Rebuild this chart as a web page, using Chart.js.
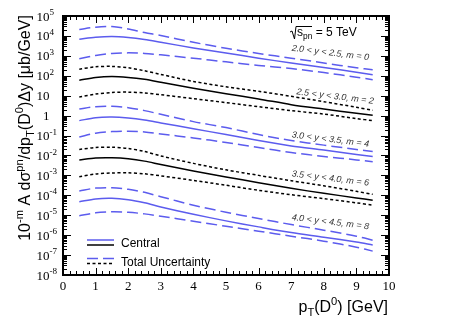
<!DOCTYPE html>
<html>
<head>
<meta charset="utf-8">
<script src="https://cdn.jsdelivr.net/npm/chart.js@4.4.1/dist/chart.umd.min.js"></script>
<style>
  html, body { margin: 0; padding: 0; background: #fff; }
  #wrap { width: 457px; height: 328px; }
</style>
</head>
<body>
<div id="wrap"><canvas id="myChart" width="457" height="328"></canvas></div>
<script>
// pT bins (GeV)
var pT = [0.5, 1, 1.5, 2, 2.5, 3, 4, 5, 6, 7, 8, 9, 9.5];

// 2.0 < y < 2.5, m = 0
var m0Central = [6.8e3, 8.5e3, 9.3e3, 8.3e3, 6.6e3, 4.8e3, 2.5e3, 1.4e3, 760, 440, 260, 150, 112];
var m0Upper = [2.1e4, 2.75e4, 2.95e4, 2.24e4, 1.48e4, 1.05e4, 4.8e3, 2.4e3, 1.32e3, 760, 440, 250, 200];
var m0Lower = [710, 1.05e3, 1.32e3, 1.41e3, 1.32e3, 1.12e3, 760, 500, 330, 230, 145, 85, 63];
// 2.5 < y < 3.0, m = 2
var m2Central = [60, 83, 93, 83, 66, 47, 23.4, 12.6, 6.9, 3.55, 2.14, 1.32, 1.05];
var m2Upper = [214, 282, 295, 251, 178, 117, 52, 28, 16.6, 9.3, 5.0, 2.63, 1.86];
var m2Lower = [8.5, 12, 14.5, 15.1, 13.8, 11.2, 7.1, 4.5, 2.8, 1.78, 1.2, 0.71, 0.56];
// 3.0 < y < 3.5, m = 4
var m4Central = [0.56, 0.79, 0.85, 0.76, 0.60, 0.43, 0.22, 0.112, 0.056, 0.030, 0.0186, 0.0112, 0.0089];
var m4Upper = [2.14, 2.82, 2.95, 2.51, 1.78, 1.17, 0.50, 0.25, 0.112, 0.056, 0.033, 0.020, 0.0158];
var m4Lower = [0.085, 0.132, 0.158, 0.166, 0.151, 0.120, 0.076, 0.045, 0.025, 0.0141, 0.0089, 0.0060, 0.0048];
// 3.5 < y < 4.0, m = 6
var m6Central = [5.9e-3, 7.4e-3, 7.6e-3, 6.8e-3, 5.2e-3, 3.5e-3, 1.66e-3, 8.3e-4, 4.3e-4, 2.24e-4, 1.26e-4, 7.4e-5, 5.6e-5];
var m6Upper = [2.0e-2, 2.5e-2, 2.6e-2, 2.24e-2, 1.58e-2, 9.5e-3, 4.0e-3, 1.9e-3, 1.0e-3, 5.4e-4, 3.0e-4, 1.58e-4, 1.12e-4];
var m6Lower = [8.5e-4, 1.17e-3, 1.32e-3, 1.35e-3, 1.2e-3, 9.5e-4, 5.6e-4, 3.2e-4, 1.78e-4, 1.07e-4, 6.8e-5, 4.2e-5, 3.2e-5];
// 4.0 < y < 4.5, m = 8
var m8Central = [4.8e-5, 6.6e-5, 7.1e-5, 6.0e-5, 4.2e-5, 2.6e-5, 1.12e-5, 5.2e-6, 2.6e-6, 1.35e-6, 7.9e-7, 4.5e-7, 3.2e-7];
var m8Upper = [1.66e-4, 2.3e-4, 2.4e-4, 2.0e-4, 1.41e-4, 8.5e-5, 3.2e-5, 1.41e-5, 6.8e-6, 3.4e-6, 1.78e-6, 8.9e-7, 5.6e-7];
var m8Lower = [9.3e-6, 1.32e-5, 1.48e-5, 1.41e-5, 1.17e-5, 8.9e-6, 5.0e-6, 2.8e-6, 1.58e-6, 8.9e-7, 5.0e-7, 2.5e-7, 1.58e-7];

var rapidityLabels = ["2.0 < y < 2.5, m = 0", "2.5 < y < 3.0, m = 2", "3.0 < y < 3.5, m = 4",
  "3.5 < y < 4.0, m = 6", "4.0 < y < 4.5, m = 8"];
// where each label sits (pT, value)
var labelAnchors = [[8.2, 1.4e3], [8.35, 9], [8.2, 0.063], [8.2, 7e-4], [8.2, 4.5e-6]];
var xTicks = [0, 1, 2, 3, 4, 5, 6, 7, 8, 9, 10];
var yTickExps = [5, 4, 3, 2, 1, 0, -1, -2, -3, -4, -5, -6, -7, -8];

var BLUE = "rgb(92, 92, 238)";

function pts(arr) {
  return pT.map(function (x, i) { return { x: x, y: arr[i] }; });
}
function ds(arr, color, dash) {
  return { data: pts(arr), borderColor: color, borderWidth: 1.5, borderDash: dash,
    pointRadius: 0, tension: 0.3, fill: false };
}

var groups = [
  [m0Central, m0Upper, m0Lower, BLUE, [11, 5]],
  [m2Central, m2Upper, m2Lower, "#000", [3, 2.5]],
  [m4Central, m4Upper, m4Lower, BLUE, [11, 5]],
  [m6Central, m6Upper, m6Lower, "#000", [3, 2.5]],
  [m8Central, m8Upper, m8Lower, BLUE, [11, 5]]
];
var datasets = [];
groups.forEach(function (g) {
  datasets.push(ds(g[0], g[3], []));
  datasets.push(ds(g[1], g[3], g[4]));
  datasets.push(ds(g[2], g[3], g[4]));
});

// draw text made of normal / sup / sub pieces
function richWidth(ctx, parts, size, fam) {
  var w = 0;
  parts.forEach(function (p) {
    var s = p[1] ? size * 0.7 : size;
    ctx.font = (p[2] || "") + s + "px " + fam;
    w += ctx.measureText(p[0]).width;
  });
  return w;
}
function drawRich(ctx, parts, x, y, size, fam) {
  parts.forEach(function (p) {
    var s = p[1] ? size * 0.7 : size;
    var dy = p[1] === "sup" ? -size * 0.42 : (p[1] === "sub" ? size * 0.28 : 0);
    ctx.font = (p[2] || "") + s + "px " + fam;
    ctx.fillText(p[0], x, y + dy);
    x += ctx.measureText(p[0]).width;
  });
}

var framePlugin = {
  id: "frame",
  afterDraw: function (chart) {
    var ctx = chart.ctx, a = chart.chartArea;
    var xs = chart.scales.x, ys = chart.scales.y;
    ctx.save();
    ctx.strokeStyle = "#000";
    ctx.fillStyle = "#000";
    ctx.lineWidth = 1;
    // x ticks (bottom and top)
    ctx.beginPath();
    for (var i = 0; i <= 50; i++) {
      var v = i * 0.2;
      var px = Math.round(xs.getPixelForValue(v)) + 0.5;
      var len = (i % 5 === 0) ? 7 : 4;
      ctx.moveTo(px, a.bottom); ctx.lineTo(px, a.bottom - len);
      ctx.moveTo(px, a.top); ctx.lineTo(px, a.top + len);
    }
    // y ticks (left and right), log minors
    for (var e = -8; e <= 5; e++) {
      for (var k = 1; k <= 9; k++) {
        var val = k * Math.pow(10, e);
        if (val > 1e5 * 1.0001) break;
        var py = Math.round(ys.getPixelForValue(val)) + 0.5;
        var l = k === 1 ? 8 : 4;
        ctx.moveTo(a.left, py); ctx.lineTo(a.left + l, py);
        ctx.moveTo(a.right, py); ctx.lineTo(a.right - l, py);
      }
    }
    ctx.stroke();
    // frame
    ctx.lineWidth = 2;
    ctx.strokeRect(a.left, a.top, a.right - a.left, a.bottom - a.top);

    // x tick labels
    ctx.textAlign = "center";
    ctx.textBaseline = "alphabetic";
    ctx.font = "13px 'Liberation Serif'";
    xTicks.forEach(function (t) {
      ctx.fillText(String(t), xs.getPixelForValue(t), 290);
    });
    // y tick labels
    ctx.textAlign = "left";
    yTickExps.forEach(function (ex) {
      var py = ys.getPixelForValue(Math.pow(10, ex)) + 4.5;
      var base = ex === 0 ? "1" : "10";
      ctx.font = "13px 'Liberation Serif'";
      var bw = ctx.measureText(base).width;
      var x0 = 49.5 - bw;
      if (ex === 0 || ex === 1) {
        ctx.fillText(base, x0, py);
      } else {
        drawRich(ctx, [[base], [String(ex), "sup"]], x0, py, 13, "'Liberation Serif'");
      }
    });

    // axis titles
    ctx.fillStyle = "#000";
    var yTitle = [["10"], ["-m", "sup"], [" A d\u03c3"], ["pn", "sup"], ["/dp"], ["T", "sub"],
      ["(D"], ["0", "sup"], [")\u0394y [\u03bcb/GeV]"]];
    var fam = "'Liberation Sans', Arial, sans-serif";
    ctx.save();
    ctx.translate(30, 128);
    ctx.rotate(-Math.PI / 2);
    var w = richWidth(ctx, yTitle, 16, fam);
    drawRich(ctx, yTitle, -w / 2, 0, 16, fam);
    ctx.restore();
    var xTitle = [["p"], ["T", "sub"], ["(D"], ["0", "sup"], [") [GeV]"]];
    var xw = richWidth(ctx, xTitle, 16, fam);
    drawRich(ctx, xTitle, 388 - xw, 312, 16, fam);

    // sqrt(s_pn) label
    ctx.lineWidth = 1;
    ctx.beginPath();
    ctx.moveTo(290, 32); ctx.lineTo(292, 31); ctx.lineTo(294.5, 39); ctx.lineTo(296, 26.5); ctx.lineTo(312, 26.5);
    ctx.stroke();
    drawRich(ctx, [["s"], ["pn", "sub"], [" = 5 TeV"]], 297, 36, 12, fam);

    // rapidity labels
    ctx.fillStyle = "#333";
    rapidityLabels.forEach(function (txt, i) {
      var cx = xs.getPixelForValue(labelAnchors[i][0]);
      var cy = ys.getPixelForValue(labelAnchors[i][1]);
      ctx.save();
      ctx.translate(cx, cy);
      ctx.rotate(7 * Math.PI / 180);
      ctx.font = "italic 9px " + fam;
      ctx.textAlign = "center";
      ctx.textBaseline = "middle";
      ctx.fillText(txt, 0, 0);
      ctx.restore();
    });
    ctx.textBaseline = "alphabetic";

    // legend
    ctx.lineWidth = 1.5;
    var legend = [
      ["Central", [], []],
      ["Total Uncertainty", [11, 5], [3, 2.5]]
    ];
    legend.forEach(function (it, i) {
      var y0 = 240 + i * 18.5;
      ctx.setLineDash(it[1]);
      ctx.strokeStyle = BLUE;
      ctx.beginPath(); ctx.moveTo(87, y0); ctx.lineTo(114, y0); ctx.stroke();
      ctx.setLineDash(it[2]);
      ctx.strokeStyle = "#000";
      ctx.beginPath(); ctx.moveTo(87, y0 + 5); ctx.lineTo(114, y0 + 5); ctx.stroke();
      ctx.setLineDash([]);
      ctx.fillStyle = "#000";
      ctx.font = "12px " + fam;
      ctx.textAlign = "left";
      ctx.fillText(it[0], 121, y0 + 7);
    });
    ctx.restore();
  }
};

var ctx = document.getElementById("myChart").getContext("2d");
var myChart = new Chart(ctx, {
  type: "line",
  data: { datasets: datasets },
  options: {
    responsive: false,
    animation: false,
    devicePixelRatio: 1,
    layout: { padding: { left: 63, top: 16, right: 68, bottom: 53 } },
    plugins: { legend: { display: false }, tooltip: { enabled: false } },
    scales: {
      x: { type: "linear", min: 0, max: 10, display: false },
      y: { type: "logarithmic", min: 1e-8, max: 1e5, display: false }
    }
  },
  plugins: [framePlugin]
});
</script>
</body>
</html>
